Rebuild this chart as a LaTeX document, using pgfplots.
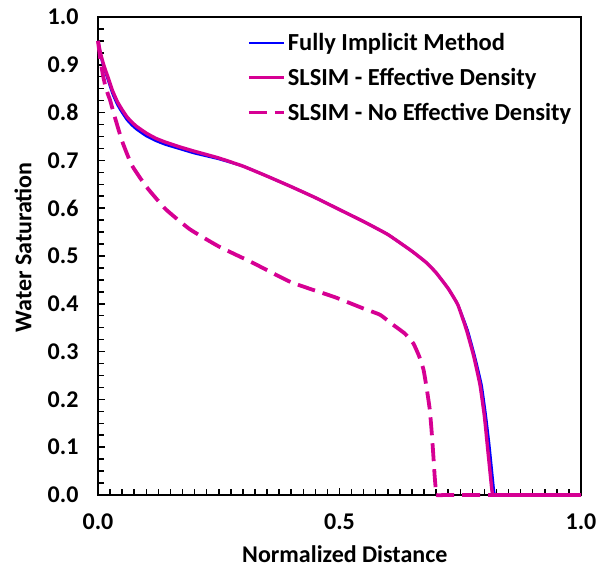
\documentclass[border=0pt]{standalone}
\usepackage{pgfplots}
\pgfplotsset{compat=1.18}
\usepackage{fontspec}
\setmainfont{Carlito}
\definecolor{mypink}{RGB}{214,0,147}
\definecolor{myblue}{RGB}{0,0,255}
\begin{document}
\begin{tikzpicture}
\begin{axis}[
 scale only axis, width=483pt, height=478pt,
 xmin=0, xmax=1, ymin=0, ymax=1,
 xtick={0,0.5,1}, ytick={0,0.1,0.2,0.3,0.4,0.5,0.6,0.7,0.8,0.9,1.0},
 minor x tick num=19, minor y tick num=3,
 xtick pos=bottom, ytick pos=left,
 tick align=inside, major tick length=7pt, minor tick length=6pt,
 every tick/.style={black, line width=1.5pt},
 axis line style={black, line width=2.5pt},
 /pgf/number format/assume math mode=true,
 /pgf/number format/fixed, /pgf/number format/fixed zerofill, /pgf/number format/precision=1,
 ticklabel style={font=\fontsize{24}{26}\selectfont\bfseries},
 yticklabel style={xshift=-16pt},
 xticklabel style={yshift=-15pt},
 label style={font=\fontsize{24}{26}\selectfont\bfseries},
 xlabel={Normalized Distance}, ylabel={Water Saturation},
 xlabel style={at={(axis description cs:0.511,-0.142)}, anchor=base},
 ylabel style={at={(axis description cs:-0.138,0.518)}, anchor=base},
 clip=false,
 legend style={draw=none, fill=none, at={(0.302,0.974)}, anchor=north west,
   font=\fontsize{24.5}{26}\selectfont\bfseries, row sep=12pt},
 legend cell align=left,
 legend image code/.code={\draw[#1] plot coordinates {(0pt,0pt) (17pt,0pt) (35pt,0pt)};},
]
\addplot[myblue, line width=2.6pt, smooth, tension=0.25] coordinates {
(0,0.95) (0.005,0.922) (0.01,0.902) (0.015,0.886) (0.02,0.871) (0.03,0.84) (0.04,0.817) (0.05,0.8) (0.06,0.785) (0.07,0.774) (0.08,0.765) (0.1,0.751) (0.12,0.741) (0.14,0.733) (0.17,0.724) (0.2,0.715) (0.25,0.703) (0.3,0.688) (0.35,0.667) (0.4,0.645) (0.45,0.622) (0.5,0.597) (0.55,0.572) (0.6,0.545) (0.65,0.51) (0.68,0.486) (0.7,0.465) (0.725,0.432) (0.745,0.398) (0.765,0.345) (0.78,0.29) (0.794,0.23) (0.803,0.165) (0.81,0.105) (0.816,0.045) (0.819,0.015) (0.821,0.0)
};
\addlegendentry{Fully Implicit Method}
\addplot[myblue, line width=2.6pt, forget plot] coordinates {(0.821,0) (1,0)};
\addplot[mypink, line width=3.4pt, smooth, tension=0.25] coordinates {
(0,0.95) (0.005,0.925) (0.01,0.906) (0.015,0.89) (0.02,0.876) (0.03,0.846) (0.04,0.823) (0.05,0.806) (0.06,0.791) (0.07,0.78) (0.08,0.771) (0.1,0.757) (0.12,0.746) (0.14,0.738) (0.17,0.728) (0.2,0.719) (0.25,0.705) (0.3,0.688) (0.35,0.667) (0.4,0.645) (0.45,0.622) (0.5,0.597) (0.55,0.572) (0.6,0.545) (0.65,0.51) (0.68,0.486) (0.7,0.465) (0.725,0.432) (0.745,0.398) (0.763,0.345) (0.778,0.29) (0.791,0.23) (0.8,0.165) (0.806,0.105) (0.812,0.045) (0.815,0.015) (0.817,0.0)
};
\addlegendentry{SLSIM - Effective Density}
\addplot[mypink, line width=3.4pt, forget plot] coordinates {(0.817,0) (1,0)};
\addplot[mypink, line width=3.8pt, dash pattern=on 18pt off 8pt, smooth, tension=0.25] coordinates {
(0,0.95) (0.005,0.91) (0.01,0.88) (0.015,0.856) (0.02,0.84) (0.025,0.826) (0.035,0.79) (0.05,0.74) (0.07,0.69) (0.1,0.645) (0.14,0.598) (0.19,0.556) (0.25,0.52) (0.32,0.486) (0.4,0.445) (0.49,0.414) (0.55,0.39) (0.584,0.377) (0.611,0.356) (0.635,0.338) (0.653,0.317) (0.665,0.29) (0.674,0.262) (0.681,0.22) (0.687,0.178) (0.691,0.13) (0.694,0.087) (0.697,0.04) (0.699,0.015) (0.70,0.0) (0.72,0.0) (0.76,0.0) (0.8,0.0) (0.85,0.0) (0.9,0.0) (0.95,0.0) (1.0,0.0)
};
\addlegendentry{SLSIM - No Effective Density}
\end{axis}
\pgfresetboundingbox
\path[use as bounding box] (current axis.south west) ++(-98pt,-74pt) rectangle ([shift={(18pt,17pt)}]current axis.north east);
\end{tikzpicture}
\end{document}
